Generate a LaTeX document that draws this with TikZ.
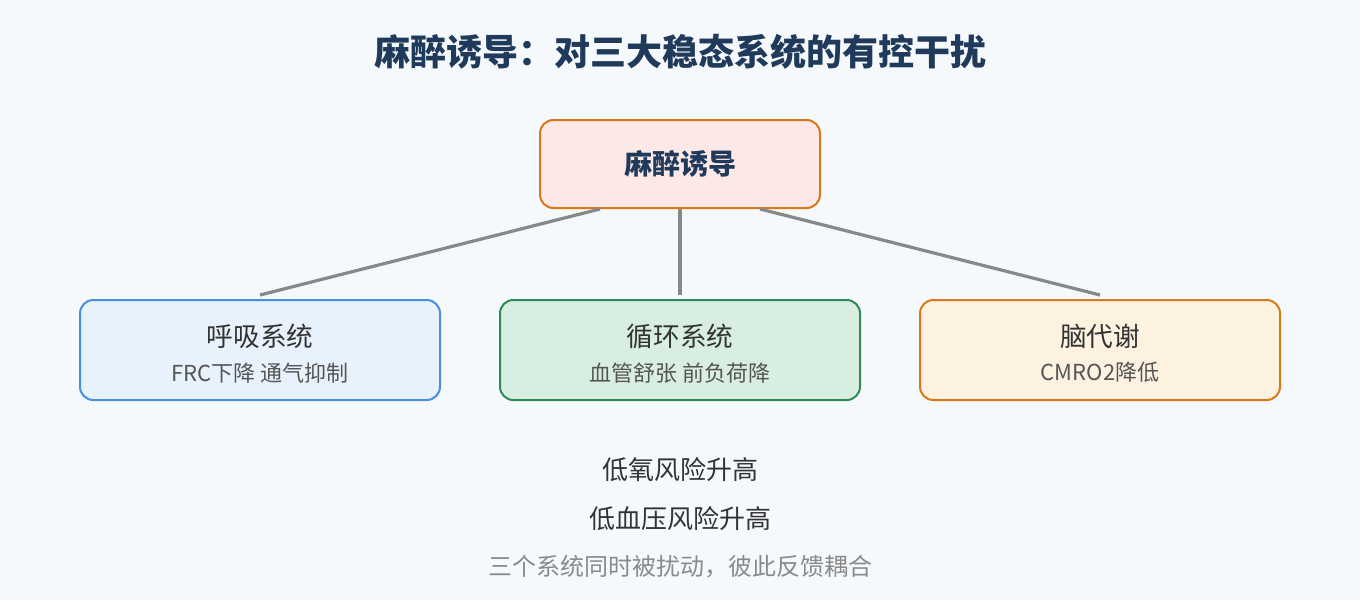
\documentclass[tikz,border=0pt]{standalone}
\usepackage{fontspec}
\setmainfont{Noto Sans CJK SC}
\usetikzlibrary{positioning}
\definecolor{bg}{HTML}{F5F9FC}
\definecolor{navy}{HTML}{1F3A5A}
\definecolor{txt}{HTML}{333333}
\definecolor{sub}{HTML}{555555}
\definecolor{note}{HTML}{8A8A8A}
\definecolor{ln}{HTML}{888888}
\definecolor{orb}{HTML}{D97A1A}
\definecolor{orf}{HTML}{FDE8E8}
\definecolor{blb}{HTML}{4A90E2}
\definecolor{blf}{HTML}{E8F2FC}
\definecolor{grb}{HTML}{2E8B57}
\definecolor{grf}{HTML}{D8EEE0}
\definecolor{yef}{HTML}{FDF2E0}
\begin{document}
\begin{tikzpicture}[x=0.75pt,y=-0.75pt,
  box/.style={draw,line width=1.5pt,rounded corners=10pt,minimum width=270pt,minimum height=75pt,align=center,inner sep=0pt},
  conn/.style={draw=ln,line width=2.4pt}]
\fill[bg] (0,0) rectangle (1360,600);
\useasboundingbox (0,0) rectangle (1360,600);
\node[font=\fontsize{27}{32}\selectfont\bfseries,text=navy] (title) at (680,52) {麻醉诱导：对三大稳态系统的有控干扰};
\node[box,draw=orb,fill=orf,minimum width=210pt,minimum height=66pt,font=\fontsize{21}{24}\selectfont\bfseries,text=navy] (top) at (680,164) {麻醉诱导};
\node[box,draw=blb,fill=blf] (b1) at (260,350) {};
\node[box,draw=grb,fill=grf] (b2) at (680,350) {};
\node[box,draw=orb,fill=yef] (b3) at (1100,350) {};
\foreach \n/\t/\s in {b1/呼吸系统/FRC下降 通气抑制, b2/循环系统/血管舒张 前负荷降, b3/脑代谢/CMRO2降低}{
  \node[font=\fontsize{20}{24}\selectfont,text=txt] at ([yshift=10pt]\n.center) {\t};
  \node[font=\fontsize{16.5}{20}\selectfont,text=sub] at ([yshift=-17pt]\n.center) {\s};
}
\draw[conn] ([xshift=-60pt]top.south) -- ([yshift=3pt]b1.north);
\draw[conn] (top.south) -- ([yshift=3pt]b2.north);
\draw[conn] ([xshift=60pt]top.south) -- ([yshift=3pt]b3.north);
\node[font=\fontsize{19.5}{24}\selectfont,text=txt] (r1) at (680,470) {低氧风险升高};
\node[font=\fontsize{19.5}{24}\selectfont,text=txt] (r2) at (680,519) {低血压风险升高};
\node[font=\fontsize{18}{22}\selectfont,text=note] (r3) at (680,567) {三个系统同时被扰动，彼此反馈耦合};
\end{tikzpicture}
\end{document}
